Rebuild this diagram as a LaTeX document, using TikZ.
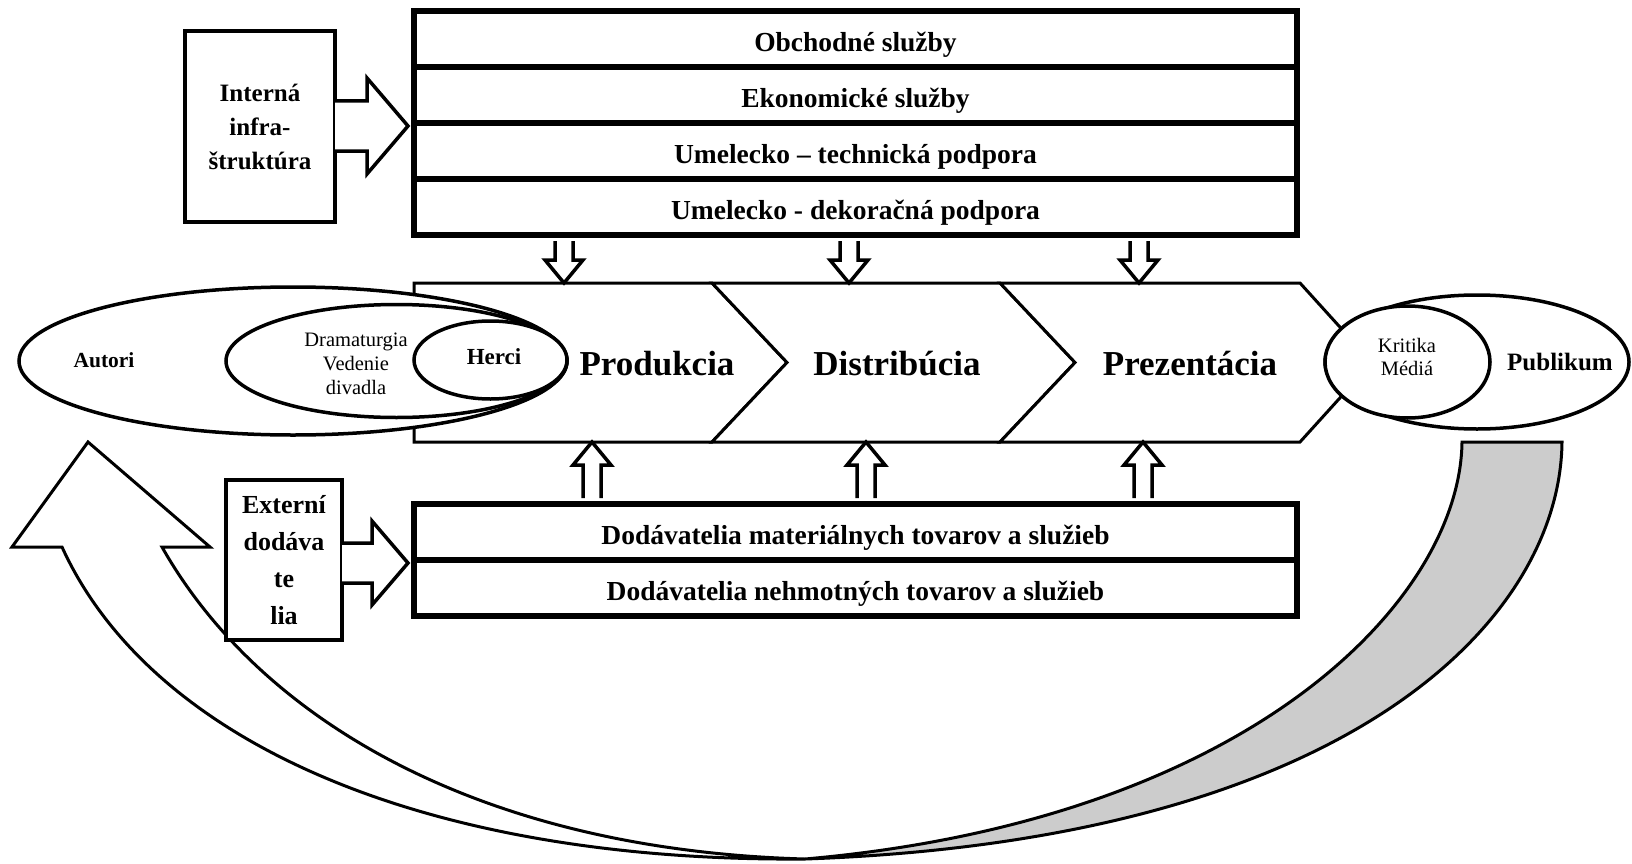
\documentclass[tikz,border=0pt]{standalone}
\usepackage{fontspec}
\setmainfont{Liberation Serif}
\usetikzlibrary{shapes.geometric,calc}
\newcommand\fsz[2]{\fontsize{#1}{#2}\selectfont}
\newcommand\downblk[2]{\draw[blk] let \p1=(#1), \p2=(#2) in (\x2-9pt,\y1-3pt) -- (\x2-9pt,\y2+23pt) -- (\x2-19pt,\y2+23pt) -- (\x2,\y2) -- (\x2+19pt,\y2+23pt) -- (\x2+9pt,\y2+23pt) -- (\x2+9pt,\y1-3pt);}
\newcommand\upblk[2]{\draw[blk] let \p1=(#1), \p2=(#2) in (\x2-9pt,\y1+3pt) -- (\x2-9pt,\y2-23pt) -- (\x2-19pt,\y2-23pt) -- (\x2,\y2) -- (\x2+19pt,\y2-23pt) -- (\x2+9pt,\y2-23pt) -- (\x2+9pt,\y1+3pt);}
\begin{document}
\begin{tikzpicture}[x=1pt,y=-1pt,line join=miter,
  ln/.style={line width=3pt},
  fatbox/.style={draw, line width=6pt, fill=white, minimum width=883pt, minimum height=56pt, inner sep=0pt, text height=25pt, text depth=0pt, font=\fsz{27.5}{33}\bfseries},
  sidebox/.style={draw, line width=4pt, fill=white, inner sep=0pt, align=center},
  ell/.style={draw, ellipse, line width=3.5pt, fill=white, inner sep=0pt},
  blk/.style={draw, line width=3.5pt, fill=white},
  chev/.style={draw, line width=3pt, fill=white},
  lab/.style={font=\fsz{35}{40}\bfseries, anchor=base, inner sep=0pt},
]
\useasboundingbox (0,0) rectangle (1632,864);
\fill[white] (0,0) rectangle (1632,864);

% big return arrows
\draw[ln, fill=black!20] (1462,442) -- (1562,442) .. controls (1560,620) and (1350,840) .. (805,859) .. controls (1250,820) and (1460,600) .. (1462,442) -- cycle;
\draw[ln, fill=white] (88,442) -- (210,547) -- (162,547) .. controls (260,720) and (480,850) .. (805,859) .. controls (420,862) and (150,740) .. (62,547) -- (12,547) -- cycle;

% value chain band
\draw[chev] (414,283) -- (712,283) -- (787,362.5) -- (712,442) -- (414,442) -- cycle;
\draw[chev] (712,283) -- (1000,283) -- (1075,362.5) -- (1000,442) -- (712,442) -- (787,362.5) -- cycle;
\draw[chev] (1000,283) -- (1300,283) -- (1372,362.5) -- (1300,442) -- (1000,442) -- (1075,362.5) -- cycle;
\coordinate (d1) at (564,283);
\coordinate (d2) at (849,283);
\coordinate (d3) at (1139,283);
\coordinate (u1) at (592,442);
\coordinate (u2) at (866,442);
\coordinate (u3) at (1143,442);
\node[lab] (prod) at (657,375) {Produkcia};
\node[lab] (dist) at (897,375) {Distribúcia};
\node[lab] (prez) at (1190,375) {Prezentácia};

% left ellipses
\node[ell, minimum width=548pt, minimum height=148pt] (aut) at (293,361) {};
\node[ell, minimum width=341pt, minimum height=113pt] (dram) at (396.5,361) {};
\node[ell, minimum width=153pt, minimum height=78pt] (herci) at (490.5,360) {};
\node[font=\fsz{21.5}{26}\bfseries] (autt) at (104,360) {Autori};
\node[font=\fsz{20.5}{24}, align=center] (dramt) at (356,364) {Dramaturgia\\Vedenie\\divadla};
\node[font=\fsz{23}{28}\bfseries] (hercit) at (494,357) {Herci};

% right ellipses
\node[ell, minimum width=304pt, minimum height=134pt] (pub) at (1477,362) {};
\node[ell, minimum width=165pt, minimum height=112pt] (krit) at (1407.5,362) {};
\node[font=\fsz{20.5}{23}, align=center] (kritt) at (1407,356.5) {Kritika\\Médiá};
\node[font=\fsz{25}{30}\bfseries] (pubt) at (1560,362) {Publikum};

% top support activities
\node[fatbox] (r1) at (855.5,39) {Obchodné služby};
\node[fatbox] (r2) at (855.5,95) {Ekonomické služby};
\node[fatbox] (r3) at (855.5,151) {Umelecko – technická podpora};
\node[fatbox] (r4) at (855.5,207) {Umelecko - dekoračná podpora};

% bottom suppliers
\node[fatbox] (b1) at (855.5,532) {Dodávatelia materiálnych tovarov a služieb};
\node[fatbox] (b2) at (855.5,588) {Dodávatelia nehmotných tovarov a služieb};

% side boxes
\node[sidebox, minimum width=150pt, minimum height=191pt, font=\fsz{25}{34}\bfseries] (int) at (260,126.5) {Interná\\infra-\\štruktúra};
\node[sidebox, minimum width=116pt, minimum height=160pt, font=\fsz{26}{37}\bfseries] (ext) at (284,560) {Externí\\dodáva\\te\\lia};

% side block arrows
\draw[blk] let \p1=(int.east), \p2=(r2.south west) in (\x1-2pt,\y2+25pt) -- (\x2-44pt,\y2+25pt) -- (\x2-44pt,\y2+48pt) -- (\x2-3pt,\y2) -- (\x2-44pt,\y2-48pt) -- (\x2-44pt,\y2-25pt) -- (\x1-2pt,\y2-25pt);
\draw[blk] let \p1=(ext.east), \p2=(b1.south west) in (\x1-2pt,\y2+20pt) -- (\x2-39pt,\y2+20pt) -- (\x2-39pt,\y2+42pt) -- (\x2-3pt,\y2) -- (\x2-39pt,\y2-42pt) -- (\x2-39pt,\y2-20pt) -- (\x1-2pt,\y2-20pt);

% vertical block arrows
\downblk{r4.south -| d1}{d1}
\downblk{r4.south -| d2}{d2}
\downblk{r4.south -| d3}{d3}
\upblk{b1.north -| u1}{u1}
\upblk{b1.north -| u2}{u2}
\upblk{b1.north -| u3}{u3}
\end{tikzpicture}
\end{document}
